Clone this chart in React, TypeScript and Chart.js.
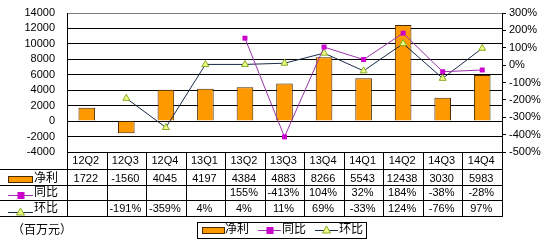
import React, { useEffect, useRef } from 'react';
import { Chart, registerables } from 'chart.js';

Chart.register(...registerables);

const categories = ['12Q2', '12Q3', '12Q4', '13Q1', '13Q2', '13Q3', '13Q4', '14Q1', '14Q2', '14Q3', '14Q4'];
const netProfit = [1722, -1560, 4045, 4197, 4384, 4883, 8266, 5543, 12438, 3030, 5983];
const yoyPct: (number | null)[] = [null, null, null, null, 155, -413, 104, 32, 184, -38, -28];
const qoqPct: (number | null)[] = [null, -191, -359, 4, 4, 11, 69, -33, 124, -76, 97];
const seriesNames = ['净利', '同比', '环比'];
const unitLabel = '（百万元）';

const FONT = '"Liberation Sans", "Noto Sans CJK SC", sans-serif';
const BAR_COLOR = '#FF9900';
const BAR_BORDER = '#4a2a00';
const YOY_COLOR = '#CC00CC';
const YOY_LINE = '#9933AA';
const QOQ_LINE = '#1a2a4a';
const QOQ_FILL = '#EEFF88';
const QOQ_BORDER = '#88AA22';

function drawIcon(ctx: CanvasRenderingContext2D, kind: number, x0: number, x1: number, y: number) {
  ctx.save();
  if (kind === 0) {
    ctx.fillStyle = BAR_COLOR;
    ctx.strokeStyle = BAR_BORDER;
    ctx.lineWidth = 1;
    ctx.fillRect(x0, y - 3, x1 - x0, 7);
    ctx.strokeRect(x0 + 0.5, y - 3 + 0.5, x1 - x0 - 1, 6);
  } else if (kind === 1) {
    ctx.strokeStyle = YOY_LINE;
    ctx.lineWidth = 1;
    ctx.beginPath();
    ctx.moveTo(x0, y + 0.5);
    ctx.lineTo(x1, y + 0.5);
    ctx.stroke();
    const cx = (x0 + x1) / 2;
    ctx.fillStyle = YOY_COLOR;
    ctx.fillRect(cx - 3, y - 3, 7, 7);
  } else {
    ctx.strokeStyle = QOQ_LINE;
    ctx.lineWidth = 1;
    ctx.beginPath();
    ctx.moveTo(x0, y + 0.5);
    ctx.lineTo(x1, y + 0.5);
    ctx.stroke();
    const cx = (x0 + x1) / 2;
    ctx.fillStyle = QOQ_FILL;
    ctx.strokeStyle = QOQ_BORDER;
    ctx.beginPath();
    ctx.moveTo(cx, y - 4);
    ctx.lineTo(cx + 4, y + 3);
    ctx.lineTo(cx - 4, y + 3);
    ctx.closePath();
    ctx.fill();
    ctx.stroke();
  }
  ctx.restore();
}

const tablePlugin = {
  id: 'dataTable',
  afterDraw(chart: any) {
    const ctx: CanvasRenderingContext2D = chart.ctx;
    const area = chart.chartArea;
    const xs = chart.scales.x;
    const n = categories.length;
    const colW = (area.right - area.left) / n;
    const top = Math.round(area.bottom);
    const rowY = [top, top + 17, top + 33, top + 48, top + 64];
    const right = Math.round(area.right);
    const left = Math.round(area.left);
    ctx.save();
    ctx.strokeStyle = '#000';
    ctx.lineWidth = 1;
    ctx.beginPath();
    ctx.moveTo(left, rowY[0] + 0.5);
    ctx.lineTo(right + 1, rowY[0] + 0.5);
    for (let r = 1; r < rowY.length; r++) {
      ctx.moveTo(0, rowY[r] + 0.5);
      ctx.lineTo(right + 1, rowY[r] + 0.5);
    }
    for (let k = 0; k <= n; k++) {
      const x = Math.round(area.left + k * colW) + 0.5;
      ctx.moveTo(x, rowY[0]);
      ctx.lineTo(x, rowY[4] + 1);
    }
    ctx.stroke();

    ctx.fillStyle = '#000';
    ctx.textAlign = 'center';
    ctx.textBaseline = 'middle';
    ctx.font = '11px ' + FONT;
    const rowsData: string[][] = [
      categories,
      netProfit.map((v) => String(v)),
      yoyPct.map((v) => (v === null ? '' : v + '%')),
      qoqPct.map((v) => (v === null ? '' : v + '%')),
    ];
    const textY = [rowY[0] + 9, rowY[1] + 10, rowY[2] + 8, rowY[3] + 9];
    rowsData.forEach((row, r) => {
      row.forEach((t, i) => {
        if (!t) return;
        const cx = xs.getPixelForValue(i) - 1;
        ctx.fillText(t, cx, textY[r]);
      });
    });

    ctx.textAlign = 'left';
    ctx.font = '12px ' + FONT;
    const iconY = [rowY[1] + 10, rowY[2] + 10, rowY[3] + 12];
    for (let s = 0; s < 3; s++) {
      drawIcon(ctx, s, 8, 33, iconY[s]);
      ctx.fillStyle = '#000';
      ctx.fillText(seriesNames[s], 34, textY[s + 1]);
    }

    ctx.font = '12px ' + FONT;
    ctx.fillText(unitLabel, 12, 231);

    const lx0 = 197, ly0 = 222, lx1 = 366, ly1 = 238;
    ctx.strokeStyle = '#000';
    ctx.strokeRect(lx0 + 0.5, ly0 + 0.5, lx1 - lx0, ly1 - ly0);
    const ly = 230;
    drawIcon(ctx, 0, 202, 225, ly);
    ctx.fillStyle = '#000';
    ctx.fillText(seriesNames[0], 225, ly);
    drawIcon(ctx, 1, 258, 281, ly);
    ctx.fillStyle = '#000';
    ctx.fillText(seriesNames[1], 282, ly);
    drawIcon(ctx, 2, 315, 338, ly);
    ctx.fillStyle = '#000';
    ctx.fillText(seriesNames[2], 339, ly);
    ctx.restore();
  },
};

export default function App() {
  const ref = useRef<HTMLCanvasElement>(null);
  useEffect(() => {
    if (!ref.current) return;
    const chart = new Chart(ref.current, {
      type: 'bar',
      data: {
        labels: categories,
        datasets: [
          {
            type: 'line',
            label: seriesNames[1],
            data: yoyPct,
            yAxisID: 'y1',
            borderColor: YOY_LINE,
            borderWidth: 1,
            pointStyle: 'rect',
            pointRadius: 3.5,
            pointBackgroundColor: YOY_COLOR,
            pointBorderColor: YOY_COLOR,
            pointBorderWidth: 0,
            tension: 0,
            spanGaps: false,
            order: 0,
          } as any,
          {
            type: 'line',
            label: seriesNames[2],
            data: qoqPct,
            yAxisID: 'y1',
            borderColor: QOQ_LINE,
            borderWidth: 1,
            pointStyle: 'triangle',
            pointRadius: 4,
            pointBackgroundColor: QOQ_FILL,
            pointBorderColor: QOQ_BORDER,
            pointBorderWidth: 1,
            tension: 0,
            order: 1,
          } as any,
          {
            type: 'bar',
            label: seriesNames[0],
            data: netProfit,
            yAxisID: 'y',
            backgroundColor: BAR_COLOR,
            borderColor: BAR_BORDER,
            borderWidth: 1,
            barPercentage: 0.42,
            categoryPercentage: 1,
            order: 2,
          } as any,
        ],
      },
      options: {
        responsive: false,
        animation: false,
        devicePixelRatio: 1,
        layout: { padding: { top: 13, bottom: 92, left: 0, right: 0 } },
        plugins: { legend: { display: false }, tooltip: { enabled: false } },
        scales: {
          x: { display: false, offset: true, grid: { display: false } },
          y: {
            position: 'left',
            min: -4000,
            max: 14000,
            ticks: {
              stepSize: 2000,
              autoSkip: false,
              color: '#000',
              padding: 12,
              font: { size: 11, family: FONT },
              callback: (v: any) => String(v),
            },
            grid: {
              color: (c: any) => (c.tick && c.tick.value === 14000 ? '#808080' : '#000'),
              drawTicks: false,
            },
            border: { display: true, color: '#000' },
            afterFit: (s: any) => {
              s.width = 67;
              s.paddingTop = 0;
              s.paddingBottom = 0;
            },
          },
          y1: {
            position: 'right',
            min: -500,
            max: 300,
            ticks: {
              stepSize: 100,
              autoSkip: false,
              color: '#000',
              padding: 3,
              font: { size: 11, family: FONT },
              callback: (v: any) => v + '%',
            },
            grid: { drawOnChartArea: false, drawTicks: true, tickLength: 4, color: '#000' },
            border: { display: true, color: '#000' },
            afterFit: (s: any) => {
              s.width = 41;
              s.paddingTop = 0;
              s.paddingBottom = 0;
            },
          },
        },
      },
      plugins: [tablePlugin],
    });
    return () => chart.destroy();
  }, []);
  return (
    <div style={{ position: 'absolute', left: 0, top: 0, width: 543, height: 244, background: '#fff' }}>
      <canvas ref={ref} width={543} height={244} style={{ display: 'block' }} />
    </div>
  );
}
